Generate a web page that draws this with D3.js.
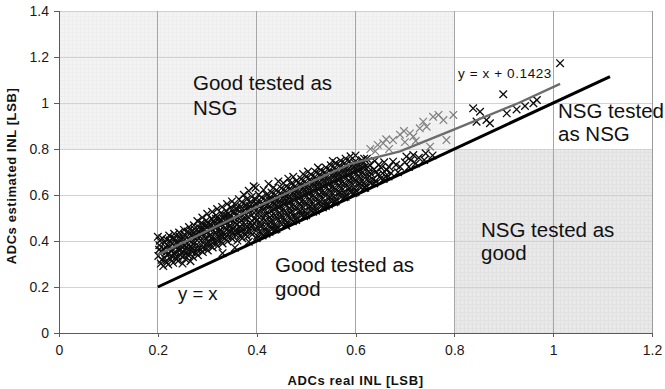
<!DOCTYPE html>
<html>
<head>
<meta charset="utf-8">
<script src="https://cdn.jsdelivr.net/npm/d3@7"></script>
<style>
  html, body { margin: 0; padding: 0; background: #fff; }
  svg { display: block; font-family: "Liberation Sans", Arial, sans-serif; }
</style>
</head>
<body>
<svg id="chart" width="665" height="389"></svg>
<script>
// Axis ticks
const xTicks = [0, 0.2, 0.4, 0.6, 0.8, 1, 1.2];
const yTicks = [0, 0.2, 0.4, 0.6, 0.8, 1, 1.2, 1.4];
const xTickLabels = ["0", "0.2", "0.4", "0.6", "0.8", "1", "1.2"];
const yTickLabels = ["0", "0.2", "0.4", "0.6", "0.8", "1", "1.2", "1.4"];

// Classification zones (real INL vs estimated INL, threshold 0.8 LSB)
const zoneGoodAsNSG = [0, 0.8, 0.8, 1.4];   // x0, x1, y0, y1
const zoneNSGAsGood = [0.8, 1.2, 0, 0.8];

// Reference line y = x and the fitted offset trend
const identityLine = [[0.2, 0.2], [1.115, 1.115]];
const trendLine = [[0.2, 0.34], [0.4, 0.548], [0.59, 0.735], [0.69, 0.79], [0.8, 0.885], [0.93, 1.0], [1.014, 1.083]];

// Measured ADCs: [real INL, estimated INL]
const adcsMain = [
  [0.201,0.335],[0.203,0.382],[0.200,0.418],[0.206,0.302],[0.207,0.356],[0.204,0.401],
  [0.211,0.291],[0.212,0.364],[0.209,0.412],[0.213,0.328],
  [0.216,0.312],[0.217,0.371],[0.214,0.393],
  [0.221,0.298],[0.222,0.342],[0.219,0.383],[0.223,0.424],
  [0.226,0.321],[0.227,0.358],[0.224,0.402],
  [0.231,0.305],[0.232,0.347],[0.229,0.389],[0.233,0.431],
  [0.236,0.328],[0.237,0.372],[0.234,0.411],
  [0.241,0.313],[0.242,0.361],[0.239,0.398],[0.243,0.437],
  [0.246,0.338],[0.247,0.381],[0.244,0.419],
  [0.250,0.302],[0.252,0.352],[0.249,0.391],[0.253,0.448],[0.251,0.414],
  [0.256,0.321],[0.257,0.369],[0.254,0.428],
  [0.261,0.339],[0.262,0.384],[0.259,0.418],[0.263,0.461],
  [0.266,0.312],[0.267,0.358],[0.264,0.401],[0.268,0.442],
  [0.271,0.331],[0.272,0.388],[0.269,0.429],[0.273,0.468],[0.270,0.372],
  [0.276,0.349],[0.277,0.409],[0.274,0.452],
  [0.281,0.338],[0.282,0.379],[0.279,0.421],[0.283,0.458],[0.280,0.487],
  [0.286,0.361],[0.287,0.402],[0.284,0.439],[0.288,0.478],
  [0.291,0.352],[0.292,0.391],[0.289,0.432],[0.293,0.469],[0.290,0.502],
  [0.296,0.368],[0.297,0.412],[0.294,0.451],[0.298,0.489],
  [0.301,0.359],[0.302,0.398],[0.299,0.441],[0.303,0.478],[0.300,0.518],[0.304,0.422],
  [0.306,0.381],[0.307,0.428],[0.305,0.468],[0.308,0.497],
  [0.311,0.372],[0.312,0.409],[0.309,0.452],[0.313,0.488],[0.310,0.527],
  [0.316,0.392],[0.317,0.438],[0.314,0.479],[0.318,0.512],
  [0.321,0.378],[0.322,0.421],[0.319,0.462],[0.323,0.498],[0.320,0.539],[0.324,0.441],
  [0.326,0.401],[0.327,0.449],[0.325,0.487],[0.328,0.522],
  [0.331,0.389],[0.332,0.432],[0.329,0.471],[0.333,0.509],[0.330,0.548],
  [0.336,0.412],[0.337,0.458],[0.334,0.497],[0.338,0.531],
  [0.341,0.398],[0.342,0.441],[0.339,0.482],[0.343,0.519],[0.340,0.561],[0.344,0.462],
  [0.346,0.421],[0.347,0.468],[0.345,0.508],[0.348,0.547],
  [0.351,0.409],[0.352,0.452],[0.349,0.491],[0.353,0.528],[0.350,0.572],
  [0.356,0.431],[0.357,0.479],[0.354,0.518],[0.358,0.558],
  [0.361,0.402],[0.362,0.438],[0.359,0.471],[0.363,0.502],[0.360,0.541],[0.364,0.582],
  [0.366,0.422],[0.367,0.461],[0.365,0.509],[0.368,0.549],
  [0.371,0.412],[0.372,0.448],[0.369,0.489],[0.373,0.528],[0.370,0.569],[0.374,0.601],
  [0.376,0.431],[0.377,0.472],[0.375,0.518],[0.378,0.558],
  [0.381,0.419],[0.382,0.461],[0.379,0.498],[0.383,0.539],[0.380,0.581],[0.384,0.618],
  [0.386,0.442],[0.387,0.479],[0.385,0.528],[0.388,0.571],
  [0.391,0.428],[0.392,0.468],[0.389,0.511],[0.393,0.548],[0.390,0.592],[0.394,0.638],
  [0.396,0.451],[0.397,0.498],[0.395,0.539],[0.398,0.581],
  [0.401,0.422],[0.402,0.459],[0.399,0.488],[0.403,0.521],[0.400,0.562],[0.404,0.601],[0.398,0.632],
  [0.406,0.441],[0.407,0.482],[0.405,0.529],[0.408,0.571],
  [0.411,0.432],[0.412,0.471],[0.409,0.509],[0.413,0.551],[0.410,0.589],[0.414,0.622],
  [0.416,0.452],[0.417,0.491],[0.415,0.538],[0.418,0.579],
  [0.421,0.441],[0.422,0.479],[0.419,0.521],[0.423,0.559],[0.420,0.601],[0.424,0.648],
  [0.426,0.462],[0.427,0.502],[0.425,0.548],[0.428,0.591],
  [0.431,0.452],[0.432,0.488],[0.429,0.531],[0.433,0.569],[0.430,0.611],[0.434,0.632],
  [0.436,0.471],[0.437,0.512],[0.435,0.559],[0.438,0.601],
  [0.441,0.462],[0.442,0.499],[0.439,0.541],[0.443,0.581],[0.440,0.621],[0.444,0.659],
  [0.446,0.482],[0.447,0.521],[0.445,0.568],[0.448,0.609],
  [0.451,0.471],[0.452,0.509],[0.449,0.552],[0.453,0.591],[0.450,0.629],[0.454,0.652],
  [0.456,0.492],[0.457,0.531],[0.455,0.578],[0.458,0.619],
  [0.461,0.481],[0.462,0.519],[0.459,0.561],[0.463,0.601],[0.460,0.638],[0.464,0.671],
  [0.466,0.502],[0.467,0.541],[0.465,0.588],[0.468,0.629],
  [0.471,0.492],[0.472,0.529],[0.469,0.571],[0.473,0.611],[0.470,0.649],[0.474,0.679],
  [0.476,0.512],[0.477,0.551],[0.475,0.598],[0.478,0.639],
  [0.481,0.501],[0.482,0.541],[0.479,0.582],[0.483,0.621],[0.480,0.661],
  [0.486,0.522],[0.487,0.561],[0.485,0.608],[0.488,0.649],
  [0.491,0.511],[0.492,0.551],[0.489,0.592],[0.493,0.631],[0.490,0.669],[0.494,0.691],
  [0.496,0.532],[0.497,0.571],[0.495,0.618],[0.498,0.659],
  [0.501,0.521],[0.502,0.561],[0.499,0.601],[0.503,0.641],[0.500,0.679],[0.504,0.702],
  [0.506,0.542],[0.507,0.581],[0.505,0.628],[0.508,0.668],
  [0.511,0.531],[0.512,0.571],[0.509,0.611],[0.513,0.651],[0.510,0.689],
  [0.516,0.552],[0.517,0.591],[0.515,0.638],[0.518,0.679],
  [0.521,0.541],[0.522,0.581],[0.519,0.621],[0.523,0.661],[0.520,0.699],[0.524,0.719],
  [0.526,0.562],[0.527,0.601],[0.525,0.648],[0.528,0.689],
  [0.531,0.551],[0.532,0.591],[0.529,0.631],[0.533,0.671],[0.530,0.709],
  [0.536,0.572],[0.537,0.611],[0.535,0.658],[0.538,0.699],
  [0.541,0.561],[0.542,0.601],[0.539,0.641],[0.543,0.681],[0.540,0.719],
  [0.546,0.582],[0.547,0.621],[0.545,0.668],[0.548,0.709],
  [0.551,0.571],[0.552,0.611],[0.549,0.651],[0.553,0.691],[0.550,0.729],[0.554,0.748],
  [0.556,0.592],[0.557,0.631],[0.555,0.678],[0.558,0.719],
  [0.561,0.581],[0.562,0.621],[0.559,0.661],[0.563,0.701],[0.560,0.739],
  [0.566,0.602],[0.567,0.641],[0.565,0.688],[0.568,0.729],
  [0.571,0.591],[0.572,0.631],[0.569,0.671],[0.573,0.711],[0.570,0.749],
  [0.576,0.612],[0.577,0.651],[0.575,0.698],[0.578,0.739],
  [0.581,0.601],[0.582,0.641],[0.579,0.681],[0.583,0.721],[0.580,0.758],
  [0.586,0.622],[0.587,0.661],[0.585,0.708],[0.588,0.748],
  [0.591,0.611],[0.592,0.651],[0.589,0.691],[0.593,0.731],[0.590,0.768],
  [0.596,0.632],[0.597,0.671],[0.595,0.718],
  [0.601,0.621],[0.602,0.661],[0.599,0.701],[0.603,0.741],[0.600,0.772],
  [0.606,0.642],[0.607,0.681],[0.605,0.728],
  [0.611,0.631],[0.612,0.671],[0.609,0.711],[0.613,0.751],
  [0.616,0.652],[0.617,0.691],[0.615,0.738],
  [0.621,0.641],[0.622,0.681],[0.619,0.721],[0.623,0.758],
  [0.626,0.662],[0.627,0.701],
  [0.631,0.651],[0.632,0.691],[0.629,0.731],
  [0.641,0.662],[0.642,0.702],[0.639,0.748],
  [0.651,0.672],[0.652,0.718],
  [0.661,0.682],[0.662,0.711],
  [0.663,0.709],[0.676,0.745],[0.690,0.723],[0.703,0.767],[0.717,0.774],
  [0.700,0.742],[0.728,0.762],[0.742,0.781],[0.682,0.731],[0.712,0.752],
  [0.838,0.977],[0.852,0.962],[0.845,0.919],[0.865,0.926],[0.872,0.912],
  [0.899,1.038],[0.906,0.955],[0.926,0.972],[0.943,0.987],[0.960,0.999],
  [0.967,1.013],[1.014,1.173],
  [0.2025,0.362],[0.208,0.318],[0.2155,0.349],[0.218,0.405],[0.2235,0.371],[0.228,0.335],
  [0.2305,0.412],[0.235,0.352],[0.2385,0.388],[0.240,0.332],[0.2455,0.362],[0.248,0.405],
  [0.2535,0.336],[0.255,0.382],[0.2585,0.352],[0.260,0.441],[0.2655,0.375],[0.268,0.422],
  [0.2705,0.352],[0.275,0.392],[0.2775,0.432],[0.280,0.362],[0.2855,0.418],[0.288,0.455],
  [0.2905,0.372],[0.295,0.428],[0.2975,0.468],[0.300,0.385],[0.3055,0.448],[0.308,0.412],
  [0.3105,0.392],[0.315,0.458],[0.3175,0.497],[0.320,0.402],[0.3255,0.468],[0.328,0.428],
  [0.3305,0.418],[0.335,0.478],[0.3375,0.512],[0.340,0.422],[0.3455,0.488],[0.348,0.442],
  [0.3505,0.432],[0.355,0.498],[0.3575,0.538],[0.360,0.452],[0.3655,0.528],[0.368,0.442],
  [0.3705,0.472],[0.375,0.498],[0.3775,0.541],[0.380,0.441],[0.3855,0.552],[0.388,0.462],
  [0.3905,0.488],[0.395,0.522],[0.3975,0.562],[0.400,0.412],[0.4055,0.548],[0.408,0.462],
  [0.4105,0.491],[0.415,0.558],[0.4175,0.512],[0.420,0.432],[0.4255,0.578],[0.428,0.482],
  [0.4305,0.511],[0.435,0.538],[0.4375,0.581],[0.440,0.452],[0.4455,0.548],[0.448,0.502],
  [0.4505,0.531],[0.455,0.561],[0.4575,0.598],[0.460,0.466],[0.4655,0.568],[0.468,0.522],
  [0.4705,0.551],[0.475,0.579],[0.4775,0.618],[0.480,0.491],[0.4855,0.588],[0.488,0.532],
  [0.4905,0.571],[0.495,0.598],[0.4975,0.638],[0.500,0.512],[0.5055,0.608],[0.508,0.552],
  [0.5105,0.591],[0.515,0.618],[0.5175,0.659],[0.520,0.532],[0.5255,0.628],[0.528,0.572],
  [0.5305,0.611],[0.535,0.638],[0.5375,0.679],[0.540,0.552],[0.5455,0.648],[0.548,0.592],
  [0.5505,0.631],[0.555,0.658],[0.5575,0.698],[0.560,0.572],[0.5655,0.668],[0.568,0.612],
  [0.5705,0.651],[0.575,0.678],[0.5775,0.718],[0.580,0.592],[0.5855,0.688],[0.588,0.632],
  [0.5905,0.671],[0.595,0.698],[0.5975,0.741],[0.600,0.612],[0.6055,0.708],[0.608,0.652],
  [0.6105,0.691],[0.615,0.718],[0.6175,0.758],[0.620,0.632],[0.6255,0.721],[0.628,0.682],
  [0.635,0.668],[0.637,0.711],[0.645,0.688],[0.647,0.731],[0.655,0.695],[0.658,0.742],
  [0.668,0.722],[0.672,0.695],
  [0.412,0.424],[0.437,0.449],[0.459,0.471],[0.473,0.486],[0.496,0.508],[0.514,0.527],
  [0.534,0.546],[0.557,0.569],[0.577,0.590],[0.596,0.608],[0.618,0.631],[0.638,0.650],
  [0.657,0.670],[0.686,0.699],[0.708,0.722],[0.722,0.737],[0.739,0.752],[0.756,0.772],
  [0.384,0.397],[0.356,0.371],[0.331,0.347],[0.426,0.440],[0.546,0.559],[0.667,0.681]
];

// Second batch of ADCs (lighter markers)
const adcsSecond = [
  [0.656,0.825],[0.676,0.839],[0.710,0.868],[0.717,0.854],[0.730,0.890],
  [0.737,0.919],[0.744,0.897],[0.751,0.810],[0.757,0.940],[0.768,0.948],
  [0.778,0.926],[0.784,0.839],[0.798,0.948],[0.630,0.800],[0.645,0.818],
  [0.662,0.842],[0.690,0.862],[0.700,0.830],[0.640,0.790],[0.668,0.800],
  [0.722,0.835],[0.698,0.878]
];

const svg = d3.select("#chart");
const W = 665, H = 389;
const margin = { left: 59, right: 13, top: 11, bottom: 56 };

const x = d3.scaleLinear().domain([0, 1.2]).range([margin.left, W - margin.right]);
const y = d3.scaleLinear().domain([0, 1.4]).range([H - margin.bottom, margin.top]);

svg.append("rect").attr("width", W).attr("height", H).attr("fill", "#fff");

// Subtle screen textures for the shaded zones
const defs = svg.append("defs");
function texture(id, bg, line) {
  const p = defs.append("pattern").attr("id", id)
    .attr("patternUnits", "userSpaceOnUse").attr("width", 4).attr("height", 4);
  p.append("rect").attr("width", 4).attr("height", 4).attr("fill", bg);
  p.append("rect").attr("x", 0).attr("y", 0).attr("width", 1).attr("height", 4).attr("fill", line);
  p.append("rect").attr("x", 0).attr("y", 0).attr("width", 4).attr("height", 1).attr("fill", line);
}
texture("texLight", "#f3f3f3", "#eeeeee");
texture("texDark", "#e9e9e9", "#e2e2e2");

function zone(z, fill) {
  svg.append("rect")
    .attr("x", x(z[0])).attr("y", y(z[3]))
    .attr("width", x(z[1]) - x(z[0])).attr("height", y(z[2]) - y(z[3]))
    .attr("fill", fill);
}
zone(zoneGoodAsNSG, "url(#texLight)");
zone(zoneNSGAsGood, "url(#texDark)");

// Grid
const grid = svg.append("g");
grid.selectAll(".hg").data(yTicks.filter(v => v > 0)).join("line")
  .attr("x1", x(0)).attr("x2", x(1.2))
  .attr("y1", d => y(d)).attr("y2", d => y(d))
  .attr("stroke", "#d2d2d2").attr("stroke-width", 1)
  .attr("shape-rendering", "crispEdges");
grid.selectAll(".vg").data(xTicks.filter(v => v > 0)).join("line")
  .attr("x1", d => x(d)).attr("x2", d => x(d))
  .attr("y1", y(0)).attr("y2", y(1.4))
  .attr("stroke", d => d === 1.2 ? "#9a9a9a" : "#a6a6a6").attr("stroke-width", 1)
  .attr("shape-rendering", "crispEdges");

// Axes
const xAxis = d3.axisBottom(x).tickValues(xTicks).tickSize(4).tickPadding(8)
  .tickFormat((d, i) => xTickLabels[i]);
const yAxis = d3.axisLeft(y).tickValues(yTicks).tickSize(5).tickPadding(5)
  .tickFormat((d, i) => yTickLabels[i]);

const gx = svg.append("g").attr("transform", `translate(0,${y(0)})`).call(xAxis);
const gy = svg.append("g").attr("transform", `translate(${x(0)},0)`).call(yAxis);
[gx, gy].forEach(g => {
  g.select(".domain").attr("stroke", "#5a5a5a").attr("shape-rendering", "crispEdges");
  g.selectAll(".tick line").attr("stroke", "#5a5a5a").attr("shape-rendering", "crispEdges");
  g.selectAll(".tick text").attr("fill", "#1a1a1a")
    .style("font-size", "14px").style("font-family", '"Liberation Sans", Arial, sans-serif');
});

// Markers
function cross(sel, data, color, w) {
  const r = 3.8;
  sel.selectAll(null).data(data).join("path")
    .attr("d", d => {
      const cx = x(d[0]), cy = y(d[1]);
      return `M${cx - r},${cy - r}L${cx + r},${cy + r}M${cx - r},${cy + r}L${cx + r},${cy - r}`;
    })
    .attr("stroke", color).attr("stroke-width", w).attr("fill", "none");
}
const marks = svg.append("g");
cross(marks.append("g"), adcsSecond, "#808080", 1.2);
cross(marks.append("g"), adcsMain, "#0d0d0d", 1.3);

const line = d3.line().x(d => x(d[0])).y(d => y(d[1]));
svg.append("path").datum(trendLine).attr("d", line)
  .attr("fill", "none").attr("stroke", "#6c6c6c").attr("stroke-width", 2.4);
svg.append("path").datum(identityLine).attr("d", line)
  .attr("fill", "none").attr("stroke", "#000").attr("stroke-width", 3);

// Annotations
const labels = svg.append("g").attr("fill", "#111");
function label(lines, px, py, size, gap, spacing) {
  lines.forEach((t, i) => {
    labels.append("text").attr("x", px).attr("y", py + i * gap)
      .style("font-size", size + "px").style("letter-spacing", (spacing || 0) + "px").text(t);
  });
}
label(["Good tested as", "NSG"], 193, 90, 20.5, 25);
label(["NSG tested", "as NSG"], 558, 118, 20.5, 23);
label(["NSG tested as", "good"], 481, 237, 20.5, 23);
label(["Good tested as", "good"], 275, 272, 20.5, 24);
label(["y = x"], 178, 300, 18.5, 0);
label(["y = x + 0.1423"], 458, 78, 13.5, 0, 0.6);

// Axis titles
svg.append("text").attr("x", (x(0) + x(1.2)) / 2).attr("y", 385)
  .attr("text-anchor", "middle").attr("fill", "#111")
  .style("font-size", "13px").style("font-weight", "bold").style("letter-spacing", "0.6px")
  .text("ADCs real INL [LSB]");
svg.append("text")
  .attr("transform", `translate(16,${(y(0) + y(1.4)) / 2 + 4}) rotate(-90)`)
  .attr("text-anchor", "middle").attr("fill", "#111")
  .style("font-size", "13px").style("font-weight", "bold").style("letter-spacing", "0.6px")
  .text("ADCs estimated INL [LSB]");
</script>
</body>
</html>
